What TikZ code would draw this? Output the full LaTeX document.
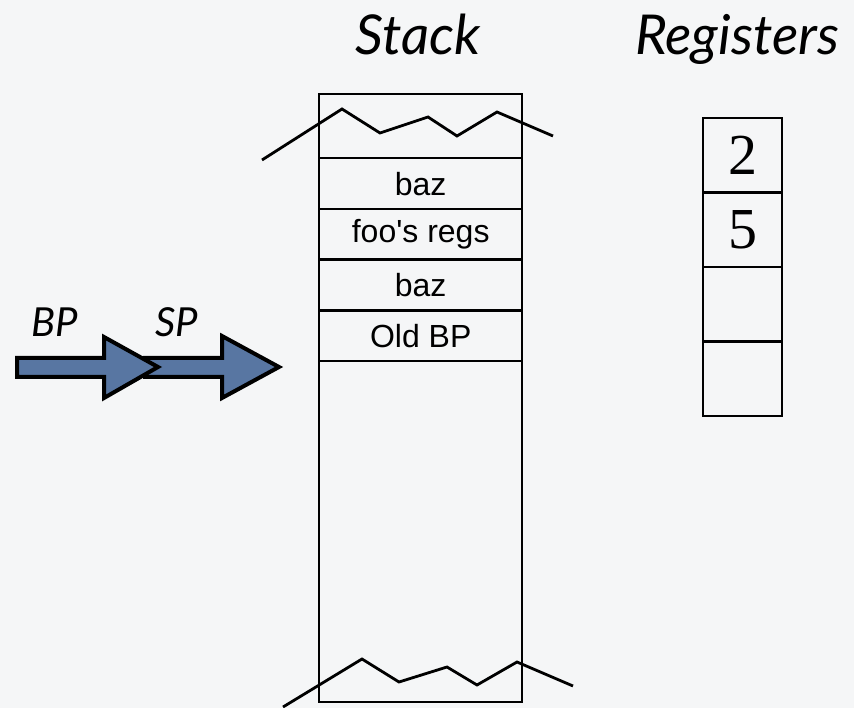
\documentclass[tikz,border=0pt]{standalone}
\usepackage{fontspec}
\setmainfont{Liberation Sans}
\newfontfamily\titlefont{Lato}
\newfontfamily\regfont{Liberation Serif}
\definecolor{bgcol}{RGB}{245,246,247}
\definecolor{ptrblue}{RGB}{88,118,162}
\tikzset{
  frame/.style={draw=black, line width=2.4pt, inner sep=0pt},
  cell/.style={frame, minimum width=203pt, minimum height=50.75pt, anchor=north west,
    font=\fontsize{32}{36}\selectfont},
  regcell/.style={frame, minimum width=79pt, minimum height=74.5pt, anchor=north west,
    font=\regfont\fontsize{58}{60}\selectfont},
  title/.style={font=\titlefont\itshape\fontsize{55}{60}\selectfont, anchor=base},
  ptrlabel/.style={font=\titlefont\itshape\fontsize{40}{44}\selectfont, anchor=base},
  zig/.style={draw=black, line width=2.8pt, line join=miter},
  ptrarrow/.style={draw=black, fill=ptrblue, line width=4pt, line join=miter}
}
\begin{document}
\begin{tikzpicture}[x=1pt,y=-1pt]
\useasboundingbox (0,0) rectangle (854,708);
\fill[bgcol] (0,0) rectangle (854,708);

% headings
\node[title] (stacktitle) at (418,55) {Stack};
\node[title] (regtitle) at (737,55) {Registers};

% the stack column
\node[frame, minimum width=203pt, minimum height=608pt, anchor=north west] (stack) at (318,93) {};
\node[cell] (s1) at (318,157.00) {baz};
\node[cell] (s2) at (318,207.75) {foo\textquotesingle s regs};
\node[cell] (s3) at (318,258.50) {baz};
\node[cell] (s4) at (318,309.25) {Old BP};

% torn edges of the stack
\draw[zig] (262,160) -- (342,109) -- (380,133) -- (428,117) -- (457,136) -- (497,112) -- (553,136);
\draw[zig] (283,707) -- (362,659) -- (399,682) -- (447,667) -- (477,685) -- (517,662) -- (573,686);

% register file
\node[regcell] (r1) at (702,117) {2};
\node[regcell] (r2) at (702,191.5) {5};
\node[regcell] (r3) at (702,266) {};
\node[regcell] (r4) at (702,340.5) {};

% stack pointer and base pointer
\draw[ptrarrow] (145,358) -- (222,358) -- (222,336) -- (279,367) -- (222,398) -- (222,377) -- (145,377) -- cycle;
\draw[ptrarrow] (17,358) -- (104,358) -- (104,337) -- (158,367) -- (104,398) -- (104,377) -- (17,377) -- cycle;
\node[ptrlabel] (bp) at (55,337) {BP};
\node[ptrlabel] (sp) at (177,337) {SP};
\end{tikzpicture}
\end{document}
